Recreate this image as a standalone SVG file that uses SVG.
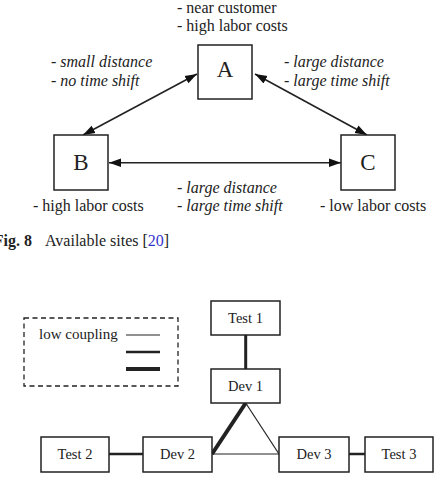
<svg xmlns="http://www.w3.org/2000/svg" width="439" height="485" viewBox="0 0 439 485">
<style>
text{font-family:"Liberation Serif","Times New Roman",serif;fill:#222}
.t{font-size:16px}
.i{font-size:16px;font-style:italic}
.big{font-size:23px;text-anchor:middle}
.n{font-size:14.5px;text-anchor:middle}
.box{fill:#fff;stroke:#222;stroke-width:1.5}
.ln{stroke:#222;fill:none}
</style>
<defs>
<marker id="ah" viewBox="0 0 12 10" refX="12" refY="5" markerWidth="12" markerHeight="10" markerUnits="userSpaceOnUse" orient="auto-start-reverse">
<path d="M0,0.8 L12,5 L0,9.2 Z" fill="#111"/>
</marker>
</defs>
<g id="connectors">
<line class="ln" x1="197" y1="74" x2="83" y2="135" stroke-width="1.6" marker-start="url(#ah)" marker-end="url(#ah)"/>
<line class="ln" x1="255" y1="74" x2="367" y2="135" stroke-width="1.6" marker-start="url(#ah)" marker-end="url(#ah)"/>
<line class="ln" x1="109" y1="162.7" x2="341" y2="162.7" stroke-width="1.6" marker-start="url(#ah)" marker-end="url(#ah)"/>
<line class="ln" x1="245.7" y1="335" x2="245.7" y2="369" stroke-width="3"/>
<line class="ln" x1="109" y1="454" x2="143" y2="454" stroke-width="2.5"/>
<line class="ln" x1="349" y1="454" x2="365" y2="454" stroke-width="2.5"/>
<line class="ln" x1="245.7" y1="403" x2="212" y2="454" stroke-width="4"/>
<line class="ln" x1="245.7" y1="403" x2="279" y2="454" stroke-width="1.2"/>
<line class="ln" x1="212" y1="454" x2="279" y2="454" stroke-width="1.2"/>
</g>
<g id="A"><rect class="box" x="198" y="45" width="54" height="54"/><text class="big" x="225" y="77">A</text></g>
<g id="B"><rect class="box" x="54" y="135" width="54" height="55"/><text class="big" x="81" y="170">B</text></g>
<g id="C"><rect class="box" x="341" y="135" width="54" height="55"/><text class="big" x="368" y="170">C</text></g>
<g id="labels">
<text class="t" x="177" y="12.5">- near customer</text>
<text class="t" x="177" y="31">- high labor costs</text>
<text class="i" x="51" y="67">- small distance</text>
<text class="i" x="51" y="86">- no time shift</text>
<text class="i" x="284" y="67">- large distance</text>
<text class="i" x="284" y="86">- large time shift</text>
<text class="i" x="177" y="193">- large distance</text>
<text class="i" x="177" y="211">- large time shift</text>
<text class="t" x="33" y="211">- high labor costs</text>
<text class="t" x="320" y="211">- low labor costs</text>
<text class="t" x="32" y="246" text-anchor="end" font-weight="bold">Fig. 8</text>
<text class="t" x="45" y="246">Available sites [<tspan fill="#3333cc">20</tspan>]</text>
</g>
<g id="legend">
<rect x="24" y="318" width="154" height="68" fill="none" stroke="#222" stroke-width="1.3" stroke-dasharray="5,3.5"/>
<text x="39" y="339" font-size="15px">low coupling</text>
<line class="ln" x1="126" y1="335" x2="160" y2="335" stroke-width="1"/>
<line class="ln" x1="126" y1="352" x2="160" y2="352" stroke-width="2.5"/>
<line class="ln" x1="126" y1="369" x2="160" y2="369" stroke-width="4"/>
</g>
<g id="Test1"><rect class="box" x="211" y="301" width="69" height="34"/><text class="n" x="245.5" y="323">Test 1</text></g>
<g id="Dev1"><rect class="box" x="211" y="369" width="69" height="34"/><text class="n" x="245.5" y="391">Dev 1</text></g>
<g id="Test2"><rect class="box" x="41" y="437" width="68" height="35"/><text class="n" x="75" y="459">Test 2</text></g>
<g id="Dev2"><rect class="box" x="143" y="437" width="69" height="35"/><text class="n" x="177.5" y="459">Dev 2</text></g>
<g id="Dev3"><rect class="box" x="279" y="437" width="70" height="35"/><text class="n" x="314" y="459">Dev 3</text></g>
<g id="Test3"><rect class="box" x="365" y="437" width="68" height="35"/><text class="n" x="399" y="459">Test 3</text></g>
</svg>
